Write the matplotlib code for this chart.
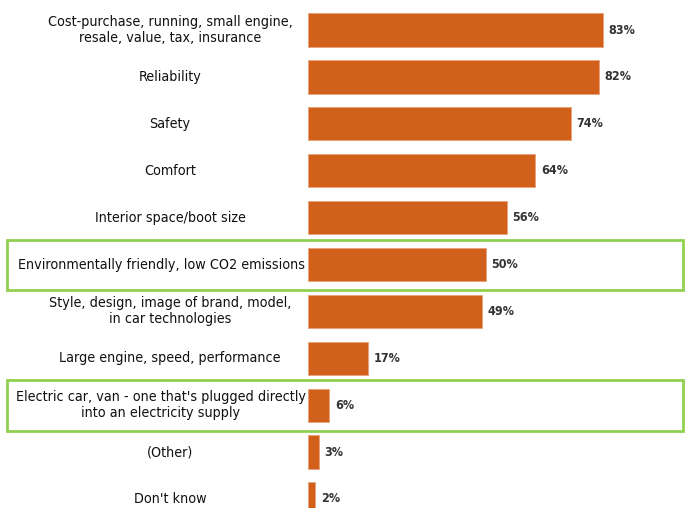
import matplotlib.pyplot as plt
from matplotlib.patches import Rectangle

labels = [
    "Cost-purchase, running, small engine,\nresale, value, tax, insurance",
    "Reliability",
    "Safety",
    "Comfort",
    "Interior space/boot size",
    "Environmentally friendly, low CO2 emissions",
    "Style, design, image of brand, model,\nin car technologies",
    "Large engine, speed, performance",
    "Electric car, van - one that's plugged directly\ninto an electricity supply",
    "(Other)",
    "Don't know",
]
values = [83, 82, 74, 64, 56, 50, 49, 17, 6, 3, 2]
highlighted = [5, 8]

W, H = 687, 508
fig = plt.figure(figsize=(W / 100, H / 100), dpi=100)

# axes in pixel terms: bars start at x=308, 3.55 px per percent
x0, px_per = 308, 3.55
row0, row_h = 30, 46.9
ax = fig.add_axes([x0 / W, 0, 100 * px_per / W, 1])
ax.set_xlim(0, 100)
ax.set_ylim((H - row0) / row_h, -row0 / row_h)
ax.axis("off")

ypos = list(range(len(values)))
ax.barh(ypos, values, height=0.71, color="#D1601A", edgecolor="#E8A27A", linewidth=0.6)

to_ax = lambda px: (px - x0) / (100 * px_per)
lab_tr = ax.get_yaxis_transform()
for y, lab, v in zip(ypos, labels, values):
    # long labels are pushed a little left so they don't run into the bars
    longest = max(len(s) for s in lab.split("\n"))
    cx = 161 if longest > 40 else 170
    ax.text(to_ax(cx), y, lab, transform=lab_tr,
            ha="center", va="center", fontsize=10.3, family="DejaVu Sans",
            fontstretch="condensed", color="#111111", linespacing=1.2)
    ax.text(v + 1.6, y, f"{v}%", ha="left", va="center", fontsize=9,
            family="DejaVu Sans", fontstretch="condensed", fontweight="bold",
            color="#333333")

# green frames around the two environmental rows
for y in highlighted:
    ax.add_patch(Rectangle((to_ax(7), y - 0.53), to_ax(683) - to_ax(7), 1.07,
                           transform=lab_tr, fill=False, edgecolor="#92D050",
                           linewidth=2, clip_on=False))

fig.savefig("out.png", dpi=100)
